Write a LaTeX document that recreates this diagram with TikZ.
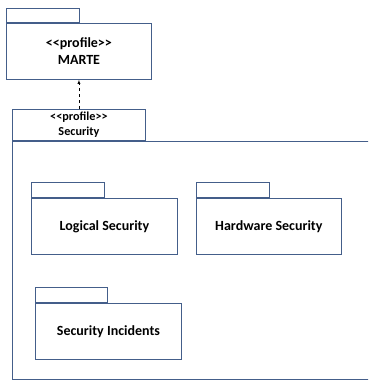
\documentclass[tikz,border=0pt]{standalone}
\usepackage{fontspec}
\setmainfont{Carlito}
\usetikzlibrary{positioning}

\definecolor{pkgline}{RGB}{68,94,138}
% keep the two angle brackets apart
\newcommand\stereo[1]{<\kern0pt<#1>\kern0pt>}

\tikzset{
  pkgbody/.style={draw=pkgline, line width=0.9pt, minimum width=146pt, minimum height=56pt,
    inner sep=0pt, align=center, font=\bfseries\fontsize{14}{17}\selectfont},
  pkgtab/.style={draw=pkgline, line width=0.9pt, minimum width=73pt, minimum height=15pt,
    inner sep=0pt, anchor=south west}
}

\begin{document}
\begin{tikzpicture}[x=1pt, y=-1pt]
  \useasboundingbox (0,0) rectangle (368,380);
  \clip (0,0) rectangle (368,380);

  % MARTE profile
  \node[pkgbody, minimum width=145pt, anchor=north west] (M) at (6,23) {\stereo{profile}\\MARTE};
  \node[pkgtab, minimum height=14pt] (Mtab) at (M.north west) {};

  % Security profile, its frame runs past the page
  \node[pkgtab, minimum width=133pt, minimum height=31pt, align=center,
        font=\bfseries\fontsize{12.2}{15}\selectfont] (Stab) at (12,141) {\stereo{profile}\\Security};
  \node[pkgbody, minimum width=370pt, minimum height=238pt, anchor=north west] (S) at (Stab.south west) {};

  \draw[-latex, dashed] (Stab) -- (M);

  % packages inside Security
  \node[pkgbody, anchor=north west] (LS) at (31,198) {Logical Security};
  \node[pkgtab] at (LS.north west) {};
  \node[pkgbody, minimum width=145pt, right=18pt of LS] (HS) {Hardware Security};
  \node[pkgtab] at (HS.north west) {};
  \node[pkgbody, anchor=north west] (SI) at (35,303) {Security Incidents};
  \node[pkgtab, minimum width=72pt] at (SI.north west) {};
\end{tikzpicture}
\end{document}
